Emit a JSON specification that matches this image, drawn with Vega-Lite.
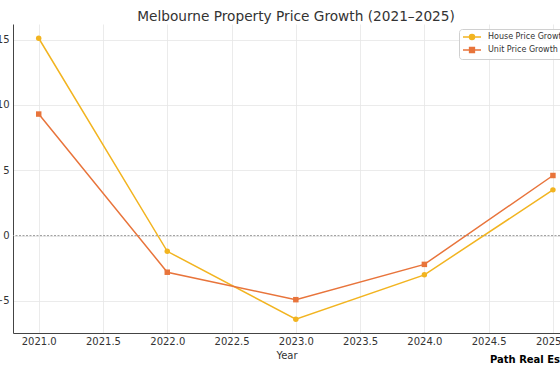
{
  "$schema": "https://vega.github.io/schema/vega-lite/v6.json",
  "autosize": {"type": "none"},
  "padding": {"left": 13, "top": 24, "right": 0, "bottom": 37},
  "width": 547,
  "height": 309,
  "background": "white",
  "config": {
    "font": "DejaVu Sans",
    "view": {"stroke": null},
    "axis": {
      "domainColor": "#444444",
      "domainWidth": 1,
      "gridColor": "#e6e6e6",
      "gridWidth": 0.8,
      "ticks": false,
      "labelFont": "DejaVu Sans",
      "labelFontSize": 10,
      "labelColor": "#333333",
      "titleFont": "DejaVu Sans",
      "titleFontSize": 10,
      "titleFontWeight": "normal",
      "titleColor": "#333333"
    }
  },
  "title": {
    "text": "Melbourne Property Price Growth (2021–2025)",
    "anchor": "middle",
    "dx": 9.5,
    "offset": -11,
    "baseline": "alphabetic",
    "font": "DejaVu Sans",
    "fontSize": 13.7,
    "fontWeight": "normal",
    "color": "#333333"
  },
  "data": {
    "values": [
      {"Year": 2021, "Series": "House Price Growth", "Growth": 15.1},
      {"Year": 2022, "Series": "House Price Growth", "Growth": -1.2},
      {"Year": 2023, "Series": "House Price Growth", "Growth": -6.4},
      {"Year": 2024, "Series": "House Price Growth", "Growth": -3.0},
      {"Year": 2025, "Series": "House Price Growth", "Growth": 3.5},
      {"Year": 2021, "Series": "Unit Price Growth", "Growth": 9.3},
      {"Year": 2022, "Series": "Unit Price Growth", "Growth": -2.8},
      {"Year": 2023, "Series": "Unit Price Growth", "Growth": -4.9},
      {"Year": 2024, "Series": "Unit Price Growth", "Growth": -2.2},
      {"Year": 2025, "Series": "Unit Price Growth", "Growth": 4.6}
    ]
  },
  "layer": [
    {
      "data": {"values": [{"level": 0}]},
      "mark": {"type": "rule", "color": "#999999", "strokeWidth": 1, "strokeDash": [2, 1.5]},
      "encoding": {
        "y": {"field": "level", "type": "quantitative"}
      }
    },
    {
      "mark": {"type": "line", "strokeWidth": 1.5, "clip": true},
      "encoding": {
        "x": {
          "field": "Year",
          "type": "quantitative",
          "scale": {"domain": [2020.8, 2025.055], "nice": false, "zero": false},
          "axis": {
            "values": [2021, 2021.5, 2022, 2022.5, 2023, 2023.5, 2024, 2024.5, 2025],
            "format": ".1f",
            "labelPadding": 3,
            "titlePadding": 4,
            "title": "Year"
          }
        },
        "y": {
          "field": "Growth",
          "type": "quantitative",
          "scale": {"domain": [-7.45, 16.19], "nice": false, "zero": false},
          "axis": {"values": [-5, 0, 5, 10, 15], "labelPadding": 4, "title": null}
        },
        "color": {
          "field": "Series",
          "type": "nominal",
          "scale": {
            "domain": ["House Price Growth", "Unit Price Growth"],
            "range": ["#f2b420", "#e8743b"]
          }
        }
      }
    },
    {
      "mark": {"type": "point", "filled": true, "opacity": 1, "size": 30, "clip": true},
      "encoding": {
        "x": {"field": "Year", "type": "quantitative"},
        "y": {"field": "Growth", "type": "quantitative"},
        "shape": {
          "field": "Series",
          "type": "nominal",
          "scale": {"range": ["circle", "square"]},
          "legend": null
        },
        "color": {
          "field": "Series",
          "type": "nominal",
          "legend": {
            "title": null,
            "orient": "none",
            "legendX": 446,
            "legendY": 5,
            "padding": 3,
            "fillColor": "rgba(255,255,255,0.85)",
            "strokeColor": "#d0d0d0",
            "cornerRadius": 3,
            "symbolSize": 64,
            "symbolStrokeWidth": 1.5,
            "labelFont": "DejaVu Sans",
            "labelFontSize": 8,
            "labelColor": "#333333",
            "labelOffset": 16,
            "rowPadding": 1,
            "labelLimit": 200,
            "encoding": {
              "symbols": {
                "shape": {"value": {"expr": "datum.value === 'House Price Growth' ? 'M-1,0H3.5M0.625,0A0.625,0.625,0,1,1,1.875,0A0.625,0.625,0,1,1,0.625,0Z' : 'M-1,0H3.5M0.65,-0.6H1.85V0.6H0.65Z'"}},
                "stroke": {"value": {"expr": "scale('color', datum.value)"}},
                "fill": {"value": {"expr": "scale('color', datum.value)"}},
                "strokeWidth": {"value": 1.5},
                "opacity": {"value": 1}
              }
            }
          }
        }
      }
    },
    {
      "data": {"values": [{"note": "Path Real Estate"}]},
      "mark": {
        "type": "text",
        "align": "left",
        "baseline": "alphabetic",
        "font": "DejaVu Sans",
        "fontSize": 10,
        "fontWeight": "bold",
        "color": "#000000"
      },
      "encoding": {
        "x": {"datum": 2024.51, "type": "quantitative"},
        "y": {"datum": -9.78, "type": "quantitative"},
        "text": {"field": "note", "type": "nominal"}
      }
    }
  ]
}
